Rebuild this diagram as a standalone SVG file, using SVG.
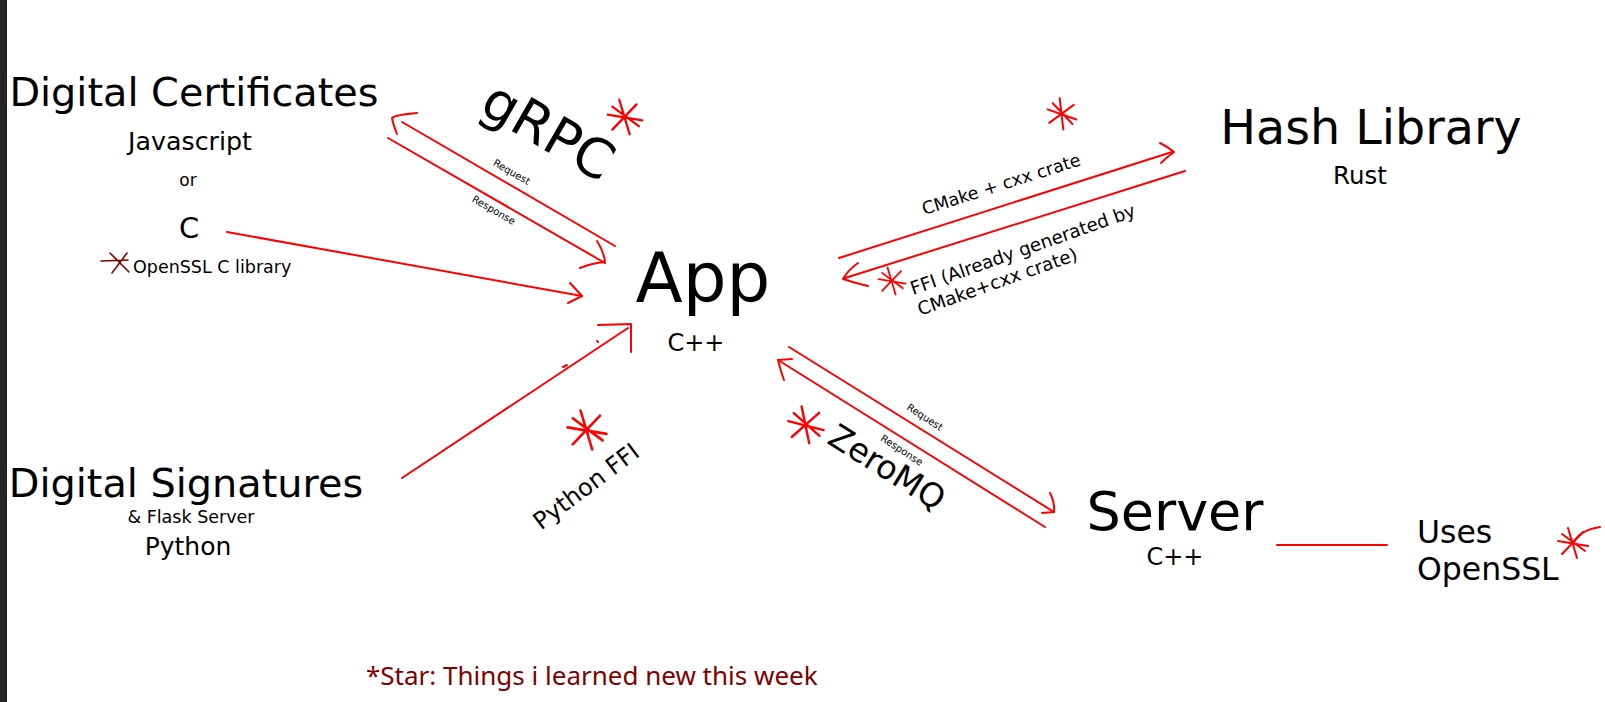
<svg xmlns="http://www.w3.org/2000/svg" width="1605" height="702" viewBox="0 0 1605 702">
<style>
.t{font-family:"DejaVu Sans",sans-serif;fill:#000;text-anchor:middle}
.s{text-anchor:start}
.ln{fill:none;stroke:#ff0000;stroke-width:2;stroke-linecap:round;stroke-linejoin:round}
.st{fill:none;stroke:#ff0000;stroke-width:2;stroke-linecap:round}
.note{font-family:"Noto Sans","Open Sans",sans-serif;fill:#800000;font-size:26px}
</style>
<defs>
<path id="star" d="M-15,-2 L15,3 M-5,-15 L4,15 M-11,11 L10,-11 M-11,-9 L12,8"/>
</defs>
<rect x="0" y="0" width="1605" height="702" fill="#ffffff"/>
<rect x="0" y="0" width="7" height="702" fill="#262626"/>

<g id="digital-certificates">
<text class="t" x="194" y="106" font-size="39.8">Digital Certificates</text>
<text class="t" x="190" y="150" font-size="25.3">Javascript</text>
<text class="t" x="188" y="186" font-size="17">or</text>
<text class="t" x="189" y="238" font-size="29">C</text>
<path d="M101,261 L128,260 M110,253 L129,272 M112,273 L127,253" fill="none" stroke="#800000" stroke-width="1.6" stroke-linecap="round"/>
<text class="t s" x="133" y="273" font-size="17.5">OpenSSL C library</text>
</g>

<g id="app">
<text class="t" x="703" y="302" font-size="69">App</text>
<text class="t" x="696" y="351" font-size="24">C++</text>
</g>

<g id="hash-library">
<text class="t" x="1371" y="144" font-size="47.6">Hash Library</text>
<text class="t" x="1360" y="184" font-size="24.5">Rust</text>
</g>

<g id="digital-signatures">
<text class="t" x="186" y="497" font-size="39.8">Digital Signatures</text>
<text class="t" x="191" y="523" font-size="17.5">&amp; Flask Server</text>
<text class="t" x="188" y="555" font-size="25">Python</text>
</g>

<g id="server">
<text class="t" x="1175" y="530" font-size="54">Server</text>
<text class="t" x="1175" y="565" font-size="24">C++</text>
</g>

<g id="uses-openssl">
<text class="t s" x="1417" y="543" font-size="31.5">Uses</text>
<text class="t s" x="1417" y="580" font-size="31.5">OpenSSL</text>
</g>

<g id="connectors">
<!-- gRPC request -->
<path class="ln" d="M615,246 L402,122"/>
<path class="ln" d="M417,113 C405,114 396,115 392,118 C393,124 395,129 397,134"/>
<!-- gRPC response -->
<path class="ln" d="M388,138 L605,263"/>
<path class="ln" d="M597,241 Q604,252 605,262 Q592,263 580,268"/>
<!-- C to App -->
<path class="ln" d="M227,232 L582,296"/>
<path class="ln" d="M570,283 L582,296 L568,303"/>
<!-- Python to App -->
<path class="ln" d="M402,478 L628,328"/>
<path class="ln" d="M598,325 L631,324 L631,352"/>
<path class="ln" d="M597,341 L598,342 M563,367 L567,365"/>
<!-- CMake to Hash -->
<path class="ln" d="M839,258 L1172,152"/>
<path class="ln" d="M1160,143 Q1168,147 1174,152 Q1167,157 1161,163"/>
<!-- FFI back to App -->
<path class="ln" d="M1185,171 L845,278"/>
<path class="ln" d="M858,263 Q848,270 843,279 Q855,283 868,286"/>
<!-- ZeroMQ request -->
<path class="ln" d="M789,347 L1054,512"/>
<path class="ln" d="M1050,493 Q1055,503 1054,512 L1042,513"/>
<!-- ZeroMQ response -->
<path class="ln" d="M1045,527 L778,360"/>
<path class="ln" d="M792,359 L778,360 Q781,372 784,380"/>
<!-- Server to OpenSSL -->
<path class="ln" d="M1277,545 L1387,545"/>
</g>

<g id="labels">
<text class="t" font-size="54" transform="translate(539,147) rotate(30)">gRPC</text>
<text class="t" font-size="10" transform="translate(510,175) rotate(30)">Request</text>
<text class="t" font-size="10" transform="translate(492,213) rotate(30)">Response</text>
<text class="t" font-size="17.5" transform="translate(1003,190) rotate(-17.7)">CMake + cxx crate</text>
<text class="t s" font-size="18.3" transform="translate(913,295) rotate(-19.5)">FFI (Already generated by<tspan x="0" dy="22">CMake+cxx crate)</tspan></text>
<text class="t" font-size="33" transform="translate(881,477) rotate(32)">ZeroMQ</text>
<text class="t" font-size="10" transform="translate(923,420) rotate(33)">Request</text>
<text class="t" font-size="10" transform="translate(900,453) rotate(33)">Response</text>
<text class="t" font-size="24" transform="translate(591,493) rotate(-37)">Python FFI</text>
</g>

<g id="stars">
<use href="#star" class="st" transform="translate(625,117) scale(1.15)"/>
<use href="#star" class="st" transform="translate(1062,114) rotate(10)"/>
<use href="#star" class="st" transform="translate(892,281) scale(0.9)"/>
<use href="#star" class="st" transform="translate(587,430) scale(1.3)"/>
<use href="#star" class="st" transform="translate(806,425) scale(1.2) rotate(5)"/>
<use href="#star" class="st" transform="translate(1573,543)"/>
<path class="st" d="M1573,543 Q1580,530 1600,527"/>
</g>

<g id="legend">
<text class="note" x="366" y="685">*Star: Things i learned new this week</text>
</g>
</svg>
